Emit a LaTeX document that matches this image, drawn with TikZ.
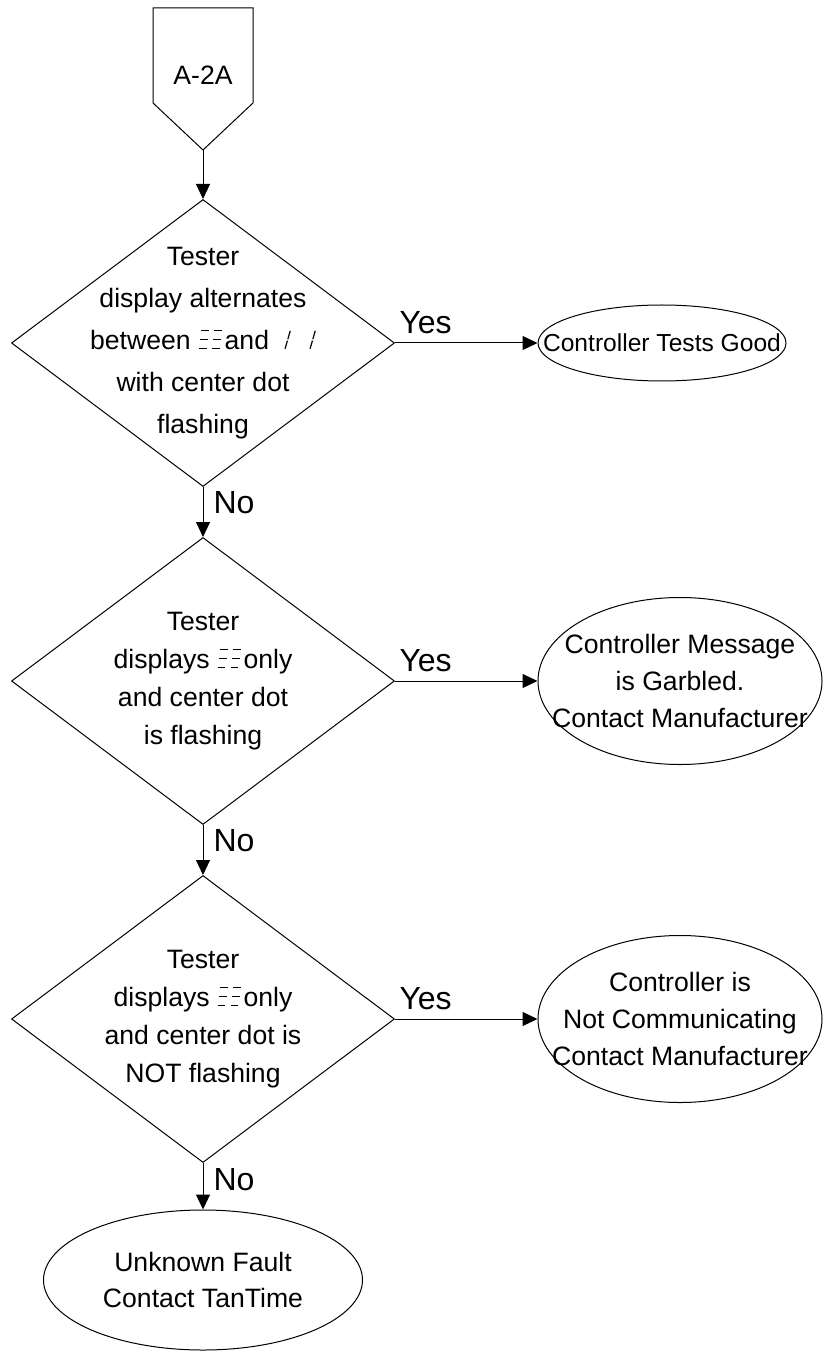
\documentclass[tikz,border=0pt]{standalone}
\usepackage{fontspec}
\setmainfont{Liberation Sans}
\usetikzlibrary{shapes.geometric,arrows.meta}

% small display glyphs (segments of the tester display)
\newcommand{\dispE}{\tikz[baseline=0pt,x=1pt,y=1pt,line width=0.6pt]{%
  \foreach \dx in {0,6.5} \foreach \hy in {0.3,4.8,9.3}
    \draw (\dx+0.3+0.12*\hy,\hy) -- (\dx+4.2+0.12*\hy,\hy);}}
\newcommand{\dispI}{\tikz[baseline=0pt,x=1pt,y=1pt,line width=0.6pt]{%
  \path (0,0);
  \foreach \dx in {8,20.5} {
    \draw (\dx,0.3) -- (\dx+1.2,4.4);
    \draw (\dx+1.4,5.1) -- (\dx+2.6,9.3);}}}

\begin{document}
\begin{tikzpicture}[x=0.5pt,y=-0.5pt,line width=0.5pt,
    body/.style={font=\fontsize{13.3pt}{19pt}\selectfont, align=center, inner sep=0pt},
    yesno/.style={font=\fontsize{16pt}{18pt}\selectfont, inner sep=2pt},
    decision/.style={shape=diamond, draw, inner sep=0pt, minimum width=191.5pt, minimum height=143.5pt},
    result/.style={shape=ellipse, draw, inner sep=0pt},
    flow/.style={-{Triangle[length=7.5pt,width=7pt]}}]
    \useasboundingbox (0,0) rectangle (828,1352);

    % Off-page connector
    \draw (153,8) -- (253,8) -- (253,103) -- (203,150) -- (153,103) -- cycle;
    \node[body] (a2a) at (203,75) {A-2A};
    \coordinate (a2atip) at (203,150);

    % Decisions
    \node[decision] (q1) at (203,343) {};
    \node[body, font=\fontsize{13.3pt}{21pt}\selectfont] (q1text) at (q1) {Tester\\display alternates\\between \dispE\kern1.2pt and\dispI\\with center dot\\flashing};

    \node[decision] (q2) at (203,681) {};
    \node[body] (q2text) at (q2) {Tester\\displays \dispE\kern1.2pt only\\and center dot\\is flashing};

    \node[decision] (q3) at (203,1019) {};
    \node[body] (q3text) at (q3) {Tester\\displays \dispE\kern1.2pt only\\and center dot is\\NOT flashing};

    % Results
    \node[result, minimum width=124pt, minimum height=38pt] (r1) at (662,343) {};
    \node[body, font=\fontsize{12.3pt}{19pt}\selectfont] (r1text) at (r1) {Controller Tests Good};

    \node[result, minimum width=142pt, minimum height=83.5pt] (r2) at (680,681) {};
    \node[body, font=\fontsize{13.3pt}{18.5pt}\selectfont] (r2text) at (r2) {Controller Message\\is Garbled.\\Contact Manufacturer};

    \node[result, minimum width=142pt, minimum height=83.5pt] (r3) at (680,1019) {};
    \node[body, font=\fontsize{13.3pt}{18.5pt}\selectfont] (r3text) at (r3) {Controller is\\Not Communicating\\Contact Manufacturer};

    \node[result, minimum width=159.5pt, minimum height=70pt] (r4) at (203,1280) {};
    \node[body, font=\fontsize{13.3pt}{18pt}\selectfont] (r4text) at (r4) {Unknown Fault\\Contact TanTime};

    % Connectors
    \draw[flow] (a2atip) -- (q1.north);
    \draw[flow] (q1.east) -- (r1.west) node[pos=0, anchor=south west, yesno, yshift=2.5pt] {Yes};
    \draw[flow] (q1.south) -- (q2.north) node[pos=0.32, anchor=west, yesno, xshift=3pt] {No};
    \draw[flow] (q2.east) -- (r2.west) node[pos=0, anchor=south west, yesno, yshift=2.5pt] {Yes};
    \draw[flow] (q2.south) -- (q3.north) node[pos=0.32, anchor=west, yesno, xshift=3pt] {No};
    \draw[flow] (q3.east) -- (r3.west) node[pos=0, anchor=south west, yesno, yshift=2.5pt] {Yes};
    \draw[flow] (q3.south) -- (r4.north) node[pos=0.35, anchor=west, yesno, xshift=3pt] {No};
\end{tikzpicture}
\end{document}
